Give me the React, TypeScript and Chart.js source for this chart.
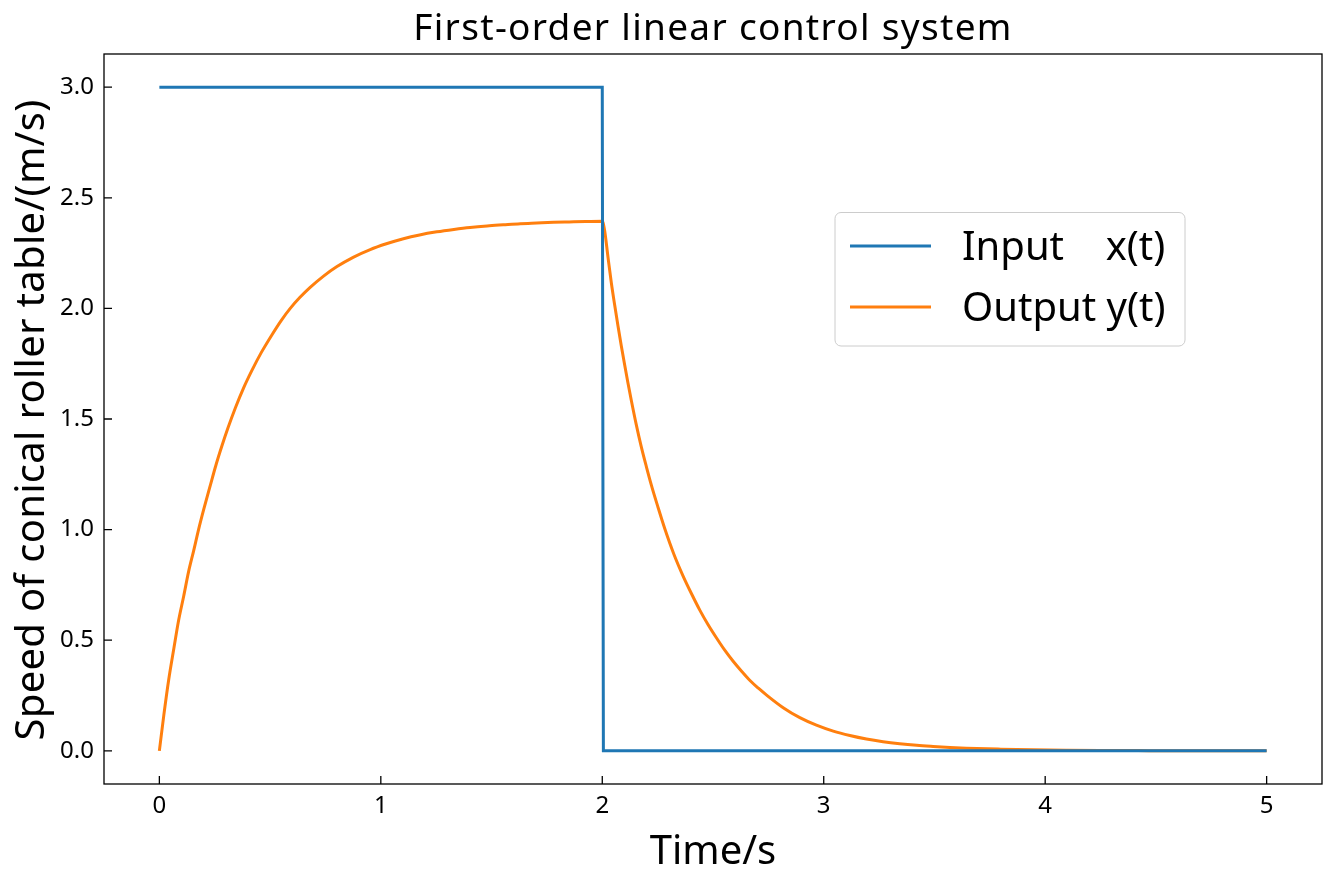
import React, { useEffect, useRef } from "react";
import { Chart, registerables } from "chart.js";

Chart.register(...registerables);

const TITLE = "First-order linear control system";
const X_LABEL = "Time/s";
const Y_LABEL = "Speed of conical roller table/(m/s)";
const X_TICKS = [0, 1, 2, 3, 4, 5];
const Y_TICKS = [0, 0.5, 1.0, 1.5, 2.0, 2.5, 3.0];
const X_RANGE = [-0.25, 5.25];
const Y_RANGE = [-0.15, 3.15];

const INPUT_LABEL = "Input    x(t)";
const OUTPUT_LABEL = "Output y(t)";

const INPUT_T = [0, 2, 2.005, 5];
const INPUT_V = [3, 3, 0, 0];

const OUTPUT_T = [
  0, 0.02, 0.042, 0.065, 0.087, 0.11, 0.132, 0.155, 0.177, 0.2, 0.23, 0.255,
  0.283, 0.31, 0.343, 0.38, 0.418, 0.46, 0.508, 0.55, 0.591, 0.635, 0.681, 0.74,
  0.802, 0.875, 0.952, 1.025, 1.102, 1.175, 1.253, 1.33, 1.403, 1.48, 1.553, 1.63,
  1.704, 1.78, 1.85, 1.925, 2.0,
  2.011, 2.026, 2.041, 2.056, 2.071, 2.086, 2.101, 2.116, 2.131, 2.153, 2.176, 2.199,
  2.222, 2.252, 2.282, 2.323, 2.365, 2.403, 2.441, 2.478, 2.516, 2.553, 2.591, 2.629,
  2.667, 2.705, 2.742, 2.817, 2.892, 2.967, 3.043, 3.118, 3.193, 3.268, 3.343, 3.42,
  3.494, 3.57, 3.644, 3.8, 3.945, 4.1, 4.246, 4.42, 4.6, 4.8, 5.0,
];
const OUTPUT_V = [
  0, 0.16, 0.32, 0.46, 0.59, 0.7, 0.81, 0.905, 1.0, 1.09, 1.2, 1.29,
  1.38, 1.46, 1.55, 1.64, 1.72, 1.8, 1.88, 1.945, 2.0, 2.05, 2.095, 2.145,
  2.189, 2.231, 2.266, 2.292, 2.315, 2.332, 2.346, 2.357, 2.366, 2.373, 2.378, 2.383,
  2.386, 2.389, 2.391, 2.393, 2.394,
  2.35, 2.23, 2.115, 2.015, 1.92, 1.83, 1.745, 1.663, 1.585, 1.477, 1.375, 1.285,
  1.2, 1.1, 1.005, 0.89, 0.79, 0.71, 0.635, 0.57, 0.51, 0.455, 0.405, 0.36,
  0.318, 0.283, 0.252, 0.195, 0.15, 0.116, 0.089, 0.069, 0.053, 0.041, 0.032, 0.025,
  0.02, 0.0155, 0.012, 0.0075, 0.0045, 0.0028, 0.0017, 0.001, 0.0006, 0.0003, 0.0002,
];

const BLUE = "#1f77b4";
const ORANGE = "#ff7f0e";
const FONT = '"Noto Sans", "Open Sans", sans-serif';

const decor = {
  id: "decor",
  afterDraw(chart: any) {
    const { ctx, chartArea: a, scales } = chart;
    ctx.save();
    // spines
    ctx.strokeStyle = "#000";
    ctx.lineWidth = 1.3;
    ctx.strokeRect(a.left, a.top, a.right - a.left, a.bottom - a.top);
    // inward ticks
    ctx.beginPath();
    X_TICKS.forEach((v) => {
      const px = scales.x.getPixelForValue(v);
      ctx.moveTo(px, a.bottom);
      ctx.lineTo(px, a.bottom - 8);
    });
    Y_TICKS.forEach((v) => {
      const py = scales.y.getPixelForValue(v);
      ctx.moveTo(a.left, py);
      ctx.lineTo(a.left + 8, py);
    });
    ctx.stroke();

    ctx.fillStyle = "#000";
    // title
    ctx.font = `37px ${FONT}`;
    ctx.textAlign = "center";
    ctx.textBaseline = "alphabetic";
    ctx.letterSpacing = "1.3px";
    ctx.fillText(TITLE, (a.left + a.right) / 2, a.top - 14);
    ctx.letterSpacing = "0px";
    // x label
    ctx.font = `40px ${FONT}`;
    ctx.fillText(X_LABEL, (a.left + a.right) / 2, a.bottom + 80);
    // y label
    ctx.save();
    ctx.translate(44, (a.top + a.bottom) / 2 + 1);
    ctx.rotate(-Math.PI / 2);
    ctx.letterSpacing = "0.3px";
    ctx.fillText(Y_LABEL, 0, 0);
    ctx.letterSpacing = "0px";
    ctx.restore();

    // legend
    const bx = a.right - 487;
    const by = a.top + 158.5;
    const bw = 350;
    const bh = 133.5;
    ctx.beginPath();
    ctx.roundRect(bx, by, bw, bh, 6);
    ctx.fillStyle = "rgba(255,255,255,0.8)";
    ctx.fill();
    ctx.strokeStyle = "#cccccc";
    ctx.lineWidth = 1;
    ctx.stroke();
    ctx.font = `40px ${FONT}`;
    ctx.textAlign = "left";
    chart.data.datasets.forEach((ds: any, i: number) => {
      const ry = by + 33.5 + i * 61;
      ctx.strokeStyle = ds.borderColor;
      ctx.lineWidth = 3;
      ctx.beginPath();
      ctx.moveTo(bx + 15, ry);
      ctx.lineTo(bx + 96, ry);
      ctx.stroke();
      ctx.fillStyle = "#000";
      ctx.fillText(ds.label, bx + 127, ry + 14);
    });
    ctx.restore();
  },
};

export default function App() {
  const ref = useRef<HTMLCanvasElement | null>(null);
  useEffect(() => {
    if (!ref.current) return;
    const chart = new Chart(ref.current, {
      type: "line",
      data: {
        datasets: [
          {
            label: INPUT_LABEL,
            data: INPUT_T.map((t, i) => ({ x: t, y: INPUT_V[i] })),
            borderColor: BLUE,
            borderWidth: 3,
            pointRadius: 0,
            tension: 0,
          },
          {
            label: OUTPUT_LABEL,
            data: OUTPUT_T.map((t, i) => ({ x: t, y: OUTPUT_V[i] })),
            borderColor: ORANGE,
            borderWidth: 3,
            pointRadius: 0,
            cubicInterpolationMode: "monotone",
          },
        ],
      },
      options: {
        animation: false,
        responsive: false,
        layout: { padding: { top: 54, left: 0, right: 11, bottom: 55 } },
        plugins: {
          legend: { display: false },
          title: { display: false },
          tooltip: { enabled: false },
        },
        scales: {
          x: {
            type: "linear",
            min: X_RANGE[0],
            max: X_RANGE[1],
            grid: { display: false, drawTicks: false },
            border: { display: false },
            afterBuildTicks: (s: any) => {
              s.ticks = X_TICKS.map((v) => ({ value: v }));
            },
            afterFit: (s: any) => {
              s.height = 40;
            },
            ticks: {
              color: "#000",
              padding: 8,
              maxRotation: 0,
              autoSkip: false,
              font: { family: FONT, size: 24 },
              callback: (v: any) => String(v),
            },
          },
          y: {
            type: "linear",
            min: Y_RANGE[0],
            max: Y_RANGE[1],
            grid: { display: false, drawTicks: false },
            border: { display: false },
            afterBuildTicks: (s: any) => {
              s.ticks = Y_TICKS.map((v) => ({ value: v }));
            },
            afterFit: (s: any) => {
              s.width = 104;
            },
            ticks: {
              color: "#000",
              padding: 10,
              autoSkip: false,
              font: { family: FONT, size: 24 },
              callback: (v: any) => Number(v).toFixed(1),
            },
          },
        },
      },
      plugins: [decor],
    });
    return () => chart.destroy();
  }, []);
  return (
    <div style={{ position: "absolute", left: 0, top: 0, width: 1333, height: 879, background: "#fff" }}>
      <canvas ref={ref} width={1333} height={879} />
    </div>
  );
}
